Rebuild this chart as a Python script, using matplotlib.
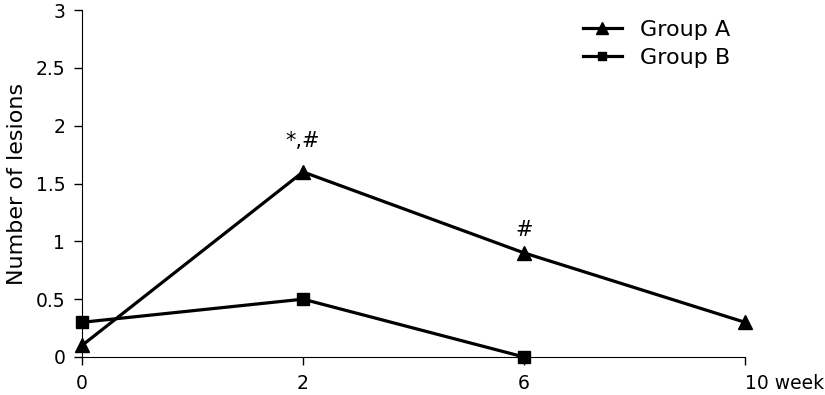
import numpy as np
import matplotlib.pyplot as plt

weeks = ['0', '2', '6', '10 week']
group_a = [0.1, 1.6, 0.9, 0.3]
group_b = [0.3, 0.5, 0.0]
marks = [(1, '*,#', 15), (2, '#', 9)]

fig = plt.figure(figsize=(8.25, 3.95), dpi=100)
ax = fig.add_axes([82/825, 1-357/395, (745-82)/825, (357-10)/395])

x = np.arange(len(weeks))
ax.plot(x, group_a, '-^', color='black', lw=2.3, ms=10, clip_on=False, label='Group A', zorder=3)
ax.plot(x[:len(group_b)], group_b, '-s', color='black', lw=2.3, ms=8, clip_on=False, label='Group B', zorder=3)

for i, txt, off in marks:
    ax.annotate(txt, (x[i], group_a[i]), xytext=(0, off), textcoords='offset points',
                ha='center', va='bottom', fontsize=15)

ax.set_xlim(0, 3)
ax.set_ylim(0, 3)
ax.set_xticks(x)
ax.set_xticklabels(weeks, fontsize=13.5)
ax.set_yticks(np.arange(0, 3.01, 0.5))
ax.set_yticklabels(['0', '0.5', '1', '1.5', '2', '2.5', '3'], fontsize=13.5)
ax.set_ylabel('Number of lesions', fontsize=16, labelpad=6)
ax.spines['top'].set_visible(False)
ax.spines['right'].set_visible(False)
ax.tick_params(direction='out', length=6, width=1, pad=6)
ax.get_xticklabels()[-1].set_horizontalalignment('left')
ax.get_xticklabels()[-1].set_x(2.93)

ax.legend(loc='upper left', bbox_to_anchor=(583/825, 1-20/395), bbox_transform=fig.transFigure,
          frameon=False, fontsize=16, handlelength=1.75, labelspacing=0.35, handletextpad=0.8,
          borderpad=0, borderaxespad=0, markerscale=0.8)

fig.savefig('out.png', dpi=100)
